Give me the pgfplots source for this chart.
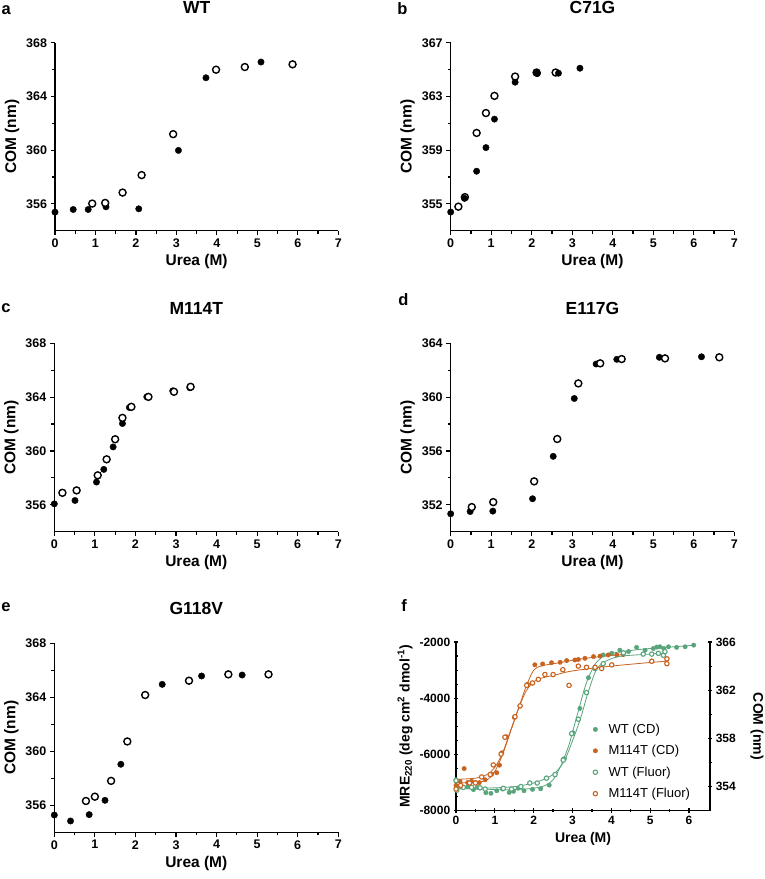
\documentclass[border=0pt]{standalone}
\usepackage{fontspec}
\setmainfont{Liberation Sans}
\usepackage{pgfplots}
\pgfplotsset{compat=1.18}
\definecolor{wtg}{RGB}{88,165,124}
\definecolor{mor}{RGB}{200,98,30}

\pgfplotsset{
  gp/.style={
    scale only axis, anchor=south west, axis lines=left,
    axis line style={-, line width=1.3pt},
    tick style={black, line width=1.2pt},
    tick align=outside, major tick length=4.5pt, minor tick length=3pt,
    xmin=0, xmax=7, xtick={0,...,7}, minor x tick num=1, minor y tick num=1,
    clip=false,
    tick label style={font=\fontsize{12.5}{13}\selectfont\bfseries},
    label style={font=\fontsize{15.5}{16}\selectfont\bfseries},
    title style={font=\fontsize{17.5}{18}\selectfont\bfseries, at={(0.5,1)}, anchor=base, yshift=23pt},
    xlabel={Urea (M)}, ylabel={COM (nm)},
    /pgf/number format/assume math mode=true,
  },
  fill mk/.style={only marks, mark=*, mark size=3.2pt, black},
  open mk/.style={only marks, mark=*, mark size=3.5pt, mark options={fill=white, draw=black, line width=1.4pt}},
  fpanel/.style={
    scale only axis, anchor=south west, at={(456pt,-810.7pt)}, width=254pt, height=168.7pt,
    tick style={black, line width=1.2pt},
    tick align=outside, major tick length=4.5pt, minor tick length=3pt,
    xmin=0, xmax=6.54, clip=false,
    tick label style={font=\fontsize{12}{12}\selectfont\bfseries},
    label style={font=\fontsize{14}{14}\selectfont\bfseries},
    /pgf/number format/assume math mode=true,
    /pgf/number format/1000 sep={},
  },
  cdg/.style={only marks, mark=*, mark size=2.2pt, wtg},
  cdo/.style={only marks, mark=*, mark size=2.2pt, mor},
  flg/.style={only marks, mark=*, mark size=2.2pt, mark options={fill=white, draw=wtg, line width=1.1pt}},
  flo/.style={only marks, mark=*, mark size=2.2pt, mark options={fill=white, draw=mor, line width=1.1pt}},
}

\begin{document}
\begin{tikzpicture}
\useasboundingbox (0,0) rectangle (765pt,-879pt);

% a: WT
\begin{axis}[gp, at={(55pt,-230.7pt)}, width=283.3pt, height=188pt,
  ymin=354, ymax=368, ytick={356,360,364,368}, title={WT}]
\addplot[fill mk] coordinates {(0,355.38) (0.45,355.58) (0.82,355.58) (1.26,355.78) (2.07,355.63) (3.05,359.98) (3.73,365.39) (5.09,366.56)};
\addplot[open mk] coordinates {(0.92,356.02) (1.24,356.07) (1.67,356.84) (2.14,358.14) (2.92,361.19) (3.98,365.99) (4.69,366.19) (5.87,366.39)};
\end{axis}

% b: C71G
\begin{axis}[gp, at={(450.7pt,-230.7pt)}, width=283.6pt, height=188pt,
  ymin=353, ymax=367, ytick={355,359,363,367}, title={C71G}]
\addplot[open mk] coordinates {(0.19,354.79) (0.35,355.50) (0.64,360.28) (0.87,361.76) (1.08,363.04) (1.59,364.48) (2.12,364.78) (2.59,364.78)};
\addplot[fill mk] coordinates {(0,354.39) (0.34,355.41) (0.64,357.43) (0.87,359.19) (1.08,361.31) (1.59,364.06) (2.12,364.73) (2.14,364.70) (2.66,364.73) (3.19,365.10)};
\end{axis}

% c: M114T
\begin{axis}[gp, at={(54.3pt,-531.7pt)}, width=284pt, height=188.4pt,
  ymin=354, ymax=368, ytick={356,360,364,368}, title={M114T}]
\addplot[fill mk] coordinates {(0,356.07) (0.51,356.32) (1.04,357.69) (1.22,358.63) (1.45,360.30) (1.68,362.04) (1.85,363.23) (2.28,364.02) (2.92,364.47) (3.34,364.70)};
\addplot[open mk] coordinates {(0.20,356.89) (0.55,357.07) (1.07,358.19) (1.29,359.38) (1.50,360.87) (1.68,362.46) (1.90,363.28) (2.32,364.02) (2.95,364.40) (3.36,364.77)};
\end{axis}

% d: E117G
\begin{axis}[gp, at={(450.7pt,-531.7pt)}, width=283.6pt, height=188.4pt,
  ymin=350, ymax=364, ytick={352,356,360,364}, title={E117G}]
\addplot[fill mk] coordinates {(0,351.33) (0.48,351.50) (1.04,351.53) (2.02,352.45) (2.53,355.60) (3.05,359.90) (3.59,362.46) (4.10,362.81) (5.15,362.96) (6.19,363.00)};
\addplot[open mk] coordinates {(0.52,351.83) (1.05,352.20) (2.06,353.74) (2.63,356.89) (3.15,361.02) (3.69,362.51) (4.22,362.83) (5.29,362.88) (6.63,362.96)};
\end{axis}

% e: G118V
\begin{axis}[gp, at={(54.3pt,-832.3pt)}, width=284pt, height=189pt,
  ymin=354, ymax=368, ytick={356,360,364,368}, title={G118V}]
\addplot[fill mk] coordinates {(0,355.28) (0.40,354.84) (0.86,355.31) (1.25,356.37) (1.64,359.04) (2.66,364.96) (3.63,365.58) (4.63,365.65)};
\addplot[open mk] coordinates {(0.78,356.32) (1.00,356.64) (1.40,357.81) (1.80,360.73) (2.24,364.17) (3.32,365.23) (4.29,365.70) (5.28,365.70)};
\end{axis}

% f: CD (left axis)
\begin{axis}[fpanel, axis x line=bottom, axis y line=left,
  axis line style={-, line width=1.3pt},
  ymin=-8000, ymax=-2000, ytick={-8000,-6000,-4000,-2000}, minor y tick num=3,
  xtick={0,...,6}, minor x tick num=1,
  xlabel={Urea (M)},
  ylabel={MRE\textsubscript{220} (deg cm\textsuperscript{2} dmol\textsuperscript{-1})}]
\addplot[wtg, line width=0.8pt, smooth, forget plot] coordinates {(0,-7150) (0.5,-7200) (1,-7250) (1.5,-7250) (2,-7200) (2.3,-7100) (2.5,-6900) (2.7,-6400) (2.9,-5700) (3.0,-5200) (3.1,-4700) (3.2,-4200) (3.3,-3700) (3.4,-3300) (3.5,-3000) (3.6,-2750) (3.8,-2500) (4.0,-2400) (4.5,-2300) (5,-2230) (5.5,-2180) (6.1,-2120)};
\addplot[mor, line width=0.8pt, smooth, forget plot] coordinates {(0,-7000) (0.5,-7000) (0.8,-6900) (1.0,-6600) (1.2,-6000) (1.4,-5200) (1.6,-4400) (1.8,-3600) (2.0,-3000) (2.2,-2850) (2.6,-2750) (3,-2650) (3.5,-2550) (4,-2480) (4.3,-2450)};
\addplot[cdg] coordinates {(0,-6900) (0.1,-7130) (0.3,-7150) (0.45,-7250) (0.55,-7170) (0.77,-7360) (0.9,-7380) (1.05,-7290) (1.2,-7230) (1.37,-7350) (1.48,-7310) (1.6,-7200) (1.75,-7290) (1.97,-7240) (2.18,-7220) (2.40,-7090) (2.76,-6175) (2.79,-6150) (2.98,-5270) (3.01,-5230) (3.19,-4360) (3.41,-3270) (3.58,-2900) (3.79,-2460) (4.01,-2400) (4.22,-2290) (4.44,-2340) (4.65,-2190) (4.87,-2290) (5.08,-2230) (5.17,-2180) (5.25,-2170) (5.35,-2230) (5.47,-2170) (5.68,-2190) (5.9,-2170) (6.12,-2110)};
\addplot[cdo] coordinates {(0,-7100) (0.1,-6950) (0.21,-6500) (0.3,-7000) (0.4,-6950) (0.5,-7000) (0.6,-7000) (0.75,-6900) (0.92,-6700) (1.05,-6650) (1.12,-6380) (1.18,-5940) (1.30,-5370) (1.50,-4680) (1.65,-4280) (1.84,-3500) (2.03,-2810) (2.23,-2780) (2.46,-2735) (2.68,-2720) (2.85,-2660) (3.06,-2640) (3.15,-2620) (3.32,-2580) (3.54,-2520) (3.71,-2500) (3.92,-2460) (4.14,-2460) (4.30,-2450)};
\end{axis}

% f: fluorescence (right axis)
\begin{axis}[fpanel, axis x line=none, axis y line=right,
  axis line style={-, line width=1.3pt},
  ymin=352, ymax=366, ytick={354,358,362,366}, minor y tick num=1,
  ylabel={COM (nm)},
  every axis y label/.style={at={(axis description cs:1,0.5)}, xshift=47pt, rotate=-90,
    anchor=center, font=\fontsize{14}{14}\selectfont\bfseries},
  legend style={draw=none, fill=none, at={(axis cs:3.45,359.55)}, anchor=north west,
    font=\fontsize{13}{13}\selectfont, row sep=6.5pt, column sep=9pt},
  legend cell align=left]
\addlegendimage{cdg}
\addlegendentry{WT (CD)}
\addlegendimage{cdo}
\addlegendentry{M114T (CD)}
\addplot[wtg, line width=0.8pt, smooth, forget plot] coordinates {(0,353.8) (1,353.9) (1.5,354.0) (2,354.3) (2.4,354.8) (2.6,355.3) (2.8,356.2) (3.0,357.8) (3.2,359.6) (3.4,361.8) (3.6,363.6) (3.8,364.3) (4.2,364.8) (5,365.0) (5.4,365.1)};
\addplot[mor, line width=0.8pt, smooth, forget plot] coordinates {(0,354.6) (0.5,354.7) (0.8,355.0) (1.0,355.6) (1.2,356.8) (1.4,358.6) (1.6,360.4) (1.8,361.9) (2.0,362.7) (2.2,363.0) (2.6,363.3) (3,363.6) (4,364.0) (5,364.3) (5.4,364.4)};
\addplot[flg] coordinates {(0,354.5) (0.02,353.7) (0.19,353.94) (0.4,353.94) (0.62,353.9) (0.75,353.8) (1.22,353.86) (1.43,353.8) (1.67,354.0) (1.9,354.3) (2.09,354.3) (2.33,354.7) (2.55,355.0) (2.76,356.2) (2.98,358.4) (3.15,359.6) (3.36,361.8) (3.58,363.8) (3.79,364.2) (4.31,365.1) (4.82,365.0) (5.04,365.0) (5.21,365.06) (5.34,364.9) (5.38,365.2)};
\addlegendentry{WT (Fluor)}
\addplot[flo] coordinates {(0,353.8) (0.12,354.1) (0.35,354.3) (0.5,354.3) (0.66,354.8) (0.88,355.0) (0.96,355.8) (1.16,356.7) (1.26,358.1) (1.52,359.8) (1.65,360.7) (1.82,362.4) (1.97,362.6) (2.12,362.9) (2.29,363.3) (2.5,363.3) (2.75,363.7) (2.91,362.4) (3.15,364.0) (3.36,363.9) (3.58,363.9) (3.75,363.8) (4.01,364.1) (5.04,364.4) (5.43,364.2) (5.43,364.6)};
\addlegendentry{M114T (Fluor)}
\end{axis}

% panel letters
\begin{scope}[every node/.style={font=\fontsize{16.5}{17}\selectfont\bfseries}]
\node at (6.3pt,-10.5pt) {a};
\node at (402.5pt,-9pt) {b};
\node at (6pt,-308pt) {c};
\node at (403.5pt,-300pt) {d};
\node at (6pt,-607.5pt) {e};
\node at (404pt,-606pt) {f};
\end{scope}
\end{tikzpicture}
\end{document}
